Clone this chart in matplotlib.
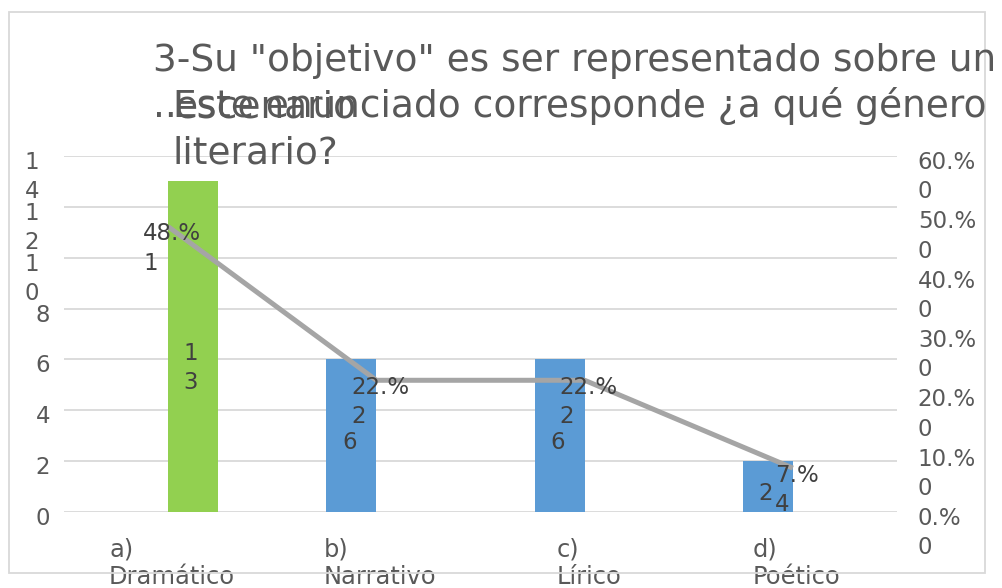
import matplotlib
matplotlib.use("Agg")
import matplotlib.pyplot as plt
from matplotlib.transforms import ScaledTranslation
from matplotlib.patches import Rectangle
import numpy as np

# ---- data ----
categories = ["a)\nDramático", "b)\nNarrativo", "c)\nLírico", "d)\nPoético"]
blue_values = [0, 6, 6, 2]
green_values = [13, 0, 0, 0]
bar_labels = ["1\n3", "6", "6", "2"]
pct_values = [0.481, 0.222, 0.222, 0.074]
pct_labels = ["48.%\n1", "22.%\n2", "22.%\n2", "7.%\n4"]
left_ticks = [0, 2, 4, 6, 8, 10, 12, 14]
left_ticklabels = ["0", "2", "4", "6", "8", "1\n0", "1\n2", "1\n4"]
right_ticks = [0.0, 0.1, 0.2, 0.3, 0.4, 0.5, 0.6]
right_ticklabels = ["0.%\n0", "10.%\n0", "20.%\n0", "30.%\n0", "40.%\n0", "50.%\n0", "60.%\n0"]
title_lines = ['3-Su "objetivo" es ser representado sobre un',
               "..", "escenario", "Este enunciado corresponde ¿a qué género",
               "literario?"]

W, H = 1002, 588
fig = plt.figure(figsize=(W / 100, H / 100), dpi=100)
fig.patch.set_facecolor("white")

def fx(px):
    return px / W

def fy(py):
    return 1 - py / H

# chart border
fig.patches.append(Rectangle((fx(9), fy(573)), fx(985) - fx(9), fy(12) - fy(573),
                             transform=fig.transFigure, fill=False,
                             edgecolor="#D9D9D9", linewidth=1.3, zorder=0))

ax = fig.add_axes([fx(64), fy(512), fx(897) - fx(64), fy(156) - fy(512)])
ax2 = ax.twinx()

tick_color = "#595959"
label_color = "#404040"
fs = 16.5

x = np.arange(len(categories))
bw = 0.24
ax.bar(x - bw / 2, blue_values, width=bw, color="#5B9BD5", zorder=2)
ax.bar(x + bw / 2, green_values, width=bw, color="#92D050", zorder=2)

ax.set_xlim(-0.5, len(categories) - 0.5)
ax.set_ylim(0, 14)
ax2.set_ylim(0, 0.6)

ax.set_yticks(left_ticks)
ax.set_yticklabels(left_ticklabels)
ax2.set_yticks(right_ticks)
ax2.set_yticklabels(right_ticklabels)
ax.set_xticks(x)
ax.set_xticklabels(categories)

ax.grid(axis="y", color="#D9D9D9", linewidth=1.3, zorder=0)
ax.set_axisbelow(True)
for a in (ax, ax2):
    for s in a.spines.values():
        s.set_visible(False)

ax.tick_params(axis="y", length=0, pad=10, labelsize=fs, labelcolor=tick_color)
ax2.tick_params(axis="y", length=0, pad=15, labelsize=fs, labelcolor=tick_color)
ax.tick_params(axis="x", length=0, pad=18, labelsize=17.4, labelcolor=tick_color)

for lab in ax.get_xticklabels():
    lab.set_multialignment("left")
    lab.set_linespacing(1.22)
    lab.set_transform(lab.get_transform() + ScaledTranslation(4 / 100, 0, fig.dpi_scale_trans))

# line on secondary axis
ax2.plot(x, pct_values, color="#A5A5A5", linewidth=3.6, zorder=3,
         solid_capstyle="butt")

# line data labels
for xi, p, t in zip(x, pct_values, pct_labels):
    ax2.annotate(t, (xi, p), xytext=(4, -22), textcoords="offset pixels",
                 ha="center", va="center", multialignment="left",
                 fontsize=fs, color=label_color, linespacing=1.35, zorder=5)

# bar data labels
for xi, b, g, t in zip(x, blue_values, green_values, bar_labels):
    if b > 0:
        xx, v = xi - bw / 2, b
    else:
        xx, v = xi + bw / 2, g
    ax2.annotate(t, (xx, v / 2), xycoords=ax.transData, xytext=(-2, 5),
                 textcoords="offset pixels", ha="center", va="top",
                 multialignment="left", fontsize=fs, color=label_color,
                 linespacing=1.35, zorder=5)

# title
title_kw = dict(fontsize=27, color=tick_color, va="baseline", ha="left")
fig.text(fx(153), fy(71), title_lines[0], **title_kw)
fig.text(fx(153), fy(117), title_lines[1], **title_kw)
fig.text(fx(175), fy(117), title_lines[2], **title_kw)
fig.text(fx(173), fy(117), title_lines[3], **title_kw)
fig.text(fx(172), fy(163), title_lines[4], **title_kw)

# tick label placement tweaks (wrapped labels)
for lab in ax.get_yticklabels():
    lab.set_va("top")
    lab.set_linespacing(1.35)
    dx = -11 if "\n" in lab.get_text() else 0
    lab.set_transform(lab.get_transform() + ScaledTranslation(dx / 100, 5 / 100, fig.dpi_scale_trans))
for lab in ax2.get_yticklabels():
    lab.set_va("top")
    lab.set_multialignment("left")
    lab.set_linespacing(1.35)
    lab.set_transform(lab.get_transform() + ScaledTranslation(0, 5 / 100, fig.dpi_scale_trans))

fig.savefig("out.png", dpi=100)
